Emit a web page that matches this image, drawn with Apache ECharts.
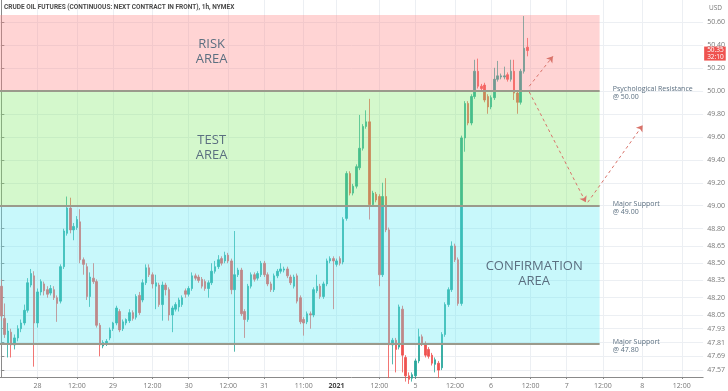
<!DOCTYPE html>
<html><head><meta charset="utf-8">
<script src="https://cdn.jsdelivr.net/npm/echarts@6/dist/echarts.min.js"></script>
<style>html,body{margin:0;padding:0;background:#fff}#c{width:728px;height:391px}</style>
</head><body><div id="c"></div>
<script>
const opens  = [48.30,48.02,47.80,47.90,47.79,47.85,47.93,47.98,48.09,48.31,48.39,47.98,48.25,48.32,48.27,48.24,48.27,48.20,48.17,48.47,
48.76,48.98,48.79,48.81,48.86,48.53,48.47,48.21,48.37,48.34,47.96,47.78,47.80,47.85,47.93,47.98,48.08,47.93,47.98,48.00,
48.07,48.03,48.22,48.18,48.33,48.46,48.40,48.30,48.31,48.14,48.31,48.27,48.05,48.10,48.12,48.14,48.26,48.23,48.28,48.39,
48.38,48.36,48.34,48.28,48.33,48.43,48.47,48.54,48.52,48.57,48.52,48.27,48.40,48.44,48.08,48.01,48.30,48.40,48.37,48.40,
48.50,48.40,48.32,48.27,48.39,48.43,48.44,48.45,48.38,48.30,48.39,48.20,48.01,47.99,48.06,48.05,48.26,48.30,48.21,48.32,
48.52,48.54,48.49,48.54,48.51,48.89,49.28,49.11,49.17,49.33,49.50,49.69,49.73,49.01,49.10,49.08,48.40,49.08,48.79,47.79,
47.83,47.77,48.10,47.68,47.52,47.50,47.52,47.65,47.86,47.80,47.75,47.70,47.62,47.63,47.59,47.88,48.14,48.27,48.65,48.53,
48.15,49.59,49.89,49.72,49.95,50.17,50.04,50.05,49.95,49.86,49.94,50.10,50.12,50.12,50.14,50.10,50.17,49.98,49.90,50.17,
50.38];
const closes = [48.04,47.88,47.91,47.79,47.85,47.93,47.98,48.09,48.33,48.41,47.98,48.25,48.34,48.26,48.23,48.28,48.20,48.15,48.47,48.78,
48.98,48.79,48.82,48.88,48.53,48.49,48.21,48.38,48.34,47.96,47.79,47.81,47.82,47.92,47.98,48.11,47.92,47.99,48.01,48.07,
48.02,48.21,48.07,48.33,48.46,48.40,48.32,48.33,48.14,48.31,48.27,48.05,48.11,48.14,48.18,48.20,48.23,48.28,48.39,48.37,
48.35,48.30,48.28,48.33,48.43,48.47,48.53,48.50,48.57,48.52,48.27,48.40,48.44,48.06,48.01,48.30,48.40,48.36,48.41,48.50,
48.40,48.32,48.27,48.39,48.43,48.45,48.45,48.39,48.33,48.38,48.17,47.99,47.98,48.06,48.05,48.27,48.30,48.21,48.32,48.52,
48.54,48.52,48.52,48.50,48.88,49.28,49.11,49.17,49.34,49.50,49.69,49.73,49.01,49.11,49.05,48.40,49.08,48.79,47.79,47.83,
47.75,48.12,47.70,47.52,47.49,47.53,47.65,47.86,47.80,47.70,47.69,47.63,47.66,47.57,47.88,48.14,48.27,48.65,48.53,48.15,
49.59,49.89,49.72,49.95,50.17,50.04,50.02,49.92,49.86,49.94,50.10,50.13,50.13,50.13,50.10,50.17,49.98,49.90,50.17,50.37,
50.35];
const lows   = [48.00,47.85,47.68,47.68,47.75,47.82,47.90,47.96,48.07,48.29,47.60,47.94,48.22,48.22,48.20,48.22,48.18,47.99,48.15,48.45,
48.74,48.76,48.70,48.79,48.50,48.40,48.18,48.12,48.32,47.94,47.69,47.76,47.78,47.83,47.91,47.96,47.90,47.91,47.96,47.98,
48.00,48.01,48.05,48.16,48.31,48.38,48.28,48.10,48.12,48.00,48.22,48.00,47.90,48.08,48.08,48.12,48.20,48.21,48.26,48.35,
48.33,48.28,48.26,48.20,48.31,48.41,48.45,48.48,48.50,48.50,48.23,47.73,48.38,48.04,47.85,47.99,48.28,48.34,48.35,48.38,
48.38,48.30,48.25,48.25,48.37,48.41,48.42,48.37,48.31,48.28,48.15,47.97,47.87,47.97,47.93,48.03,48.24,48.19,48.19,48.30,
48.50,48.10,48.47,48.48,48.49,48.87,49.09,49.09,49.15,49.31,49.48,49.67,48.88,48.99,49.03,48.30,48.38,48.77,47.50,47.62,
47.55,47.75,47.55,47.47,47.45,47.47,47.50,47.63,47.78,47.68,47.67,47.61,47.55,47.50,47.57,47.86,48.12,48.25,48.51,48.13,
48.13,49.47,49.70,49.70,49.93,50.02,49.99,49.90,49.80,49.84,49.92,50.08,50.10,50.10,50.08,50.08,49.92,49.80,49.88,50.15,
50.30];
const highs  = [48.36,48.15,47.98,47.93,47.88,47.96,48.01,48.14,48.37,48.45,48.43,48.28,48.36,48.34,48.30,48.31,48.30,48.22,48.49,48.80,
49.08,49.07,48.85,48.91,48.97,48.55,48.50,48.42,48.50,48.36,47.98,47.83,47.84,47.94,47.99,48.13,48.10,48.01,48.02,48.10,
48.09,48.23,48.25,48.36,48.49,48.49,48.42,48.40,48.33,48.34,48.33,48.29,48.13,48.16,48.20,48.22,48.28,48.30,48.42,48.41,
48.40,48.38,48.36,48.35,48.50,48.52,48.57,48.56,48.60,48.59,48.54,48.78,48.46,48.46,48.10,48.32,48.42,48.42,48.43,48.52,
48.52,48.42,48.34,48.41,48.45,48.50,48.47,48.47,48.40,48.40,48.41,48.22,48.03,48.08,48.08,48.29,48.40,48.32,48.34,48.54,
48.56,48.56,48.54,48.56,48.90,49.30,49.30,49.19,49.36,49.79,49.71,49.83,49.93,49.13,49.12,49.10,49.20,49.24,48.81,47.85,
47.85,48.14,48.13,47.70,47.55,47.55,47.67,47.93,47.88,47.82,47.77,47.72,47.68,47.65,47.90,48.16,48.29,48.69,48.67,48.55,
49.61,49.91,49.91,49.97,50.27,50.28,50.06,50.07,49.97,49.96,50.20,50.26,50.15,50.21,50.16,50.27,50.27,50.00,50.19,50.65,
50.46];

const xTickPos  = [11, 23, 34, 46, 57, 69, 80, 92, 102, 115, 126, 138, 149, 161, 172, 183, 195, 207];
const xTickText = ['28','12:00','29','12:00','30','12:00','31','11:00','2021','12:00','5','12:00','6','12:00','7','12:00','8','12:00'];
const yTicks = [50.60,50.40,50.20,50.00,49.80,49.60,49.40,49.20,49.00,48.80,48.65,48.50,48.35,48.20,48.05,47.93,47.81,47.69,47.57];

const riskTop = 50.66, resistance = 50.00, support1 = 49.00, support2 = 47.80;
const zoneEnd = 182;
const lastPrice = 50.35, countdown = '32:10';
const arrowUp = [[160.6, 50.04], [167.8, 50.30]];
const arrowDown = [[160.6, 49.99], [177.8, 49.03]];
const arrowRebound = [[178.4, 49.03], [195.1, 49.70]];

const X_MIN = -0.4, X_MAX = 213.5;
const FONT = 'Open Sans';

const candles = opens.map((o, i) => [i, o, closes[i], lows[i], highs[i]]);

const chart = echarts.init(document.getElementById('c'), null, {renderer: 'canvas'});
const textCol = '#5b6f80';
chart.setOption({
  animation: false,
  backgroundColor: '#ffffff',
  title: {
    text: 'CRUDE OIL FUTURES (CONTINUOUS: NEXT CONTRACT IN FRONT), 1h, NYMEX',
    left: 4, top: 4, padding: 0,
    textStyle: {fontSize: 6.5, fontWeight: 'bold', color: '#4a4a4a', fontFamily: 'Roboto'}
  },
  graphic: [{type: 'text', right: 6, top: 5, style: {text: 'USD', fontSize: 6.5, fill: '#777', fontFamily: FONT}}],
  grid: {left: 0, right: 21, top: 0, bottom: 14},
  xAxis: {
    type: 'value', min: X_MIN, max: X_MAX,
    axisLine: {lineStyle: {color: '#8a8a8a'}},
    axisTick: {customValues: xTickPos, length: 2, lineStyle: {color: '#8a8a8a'}},
    axisLabel: {
      customValues: xTickPos, fontSize: 7, color: '#777', fontFamily: FONT, margin: 5,
      formatter: v => { const k = xTickPos.indexOf(Math.round(v)); const t = k >= 0 ? xTickText[k] : ''; return t === '2021' ? '{b|2021}' : t; },
      rich: {b: {fontWeight: 'bold', fontSize: 7, color: '#444', fontFamily: FONT}}
    },
    splitLine: {show: true, lineStyle: {color: '#eceff3', width: 1}}
  },
  yAxis: {
    type: 'value', position: 'right', min: 47.51, max: 50.79, scale: true,
    axisLine: {show: true, lineStyle: {color: '#8a8a8a'}},
    axisTick: {show: true, customValues: yTicks, length: 3, lineStyle: {color: '#8a8a8a'}},
    axisLabel: {customValues: yTicks, fontSize: 7, color: '#777', margin: 4, fontFamily: FONT, formatter: v => v.toFixed(2)},
    splitLine: {show: true, lineStyle: {color: '#eceff3', width: 1}}
  },
  series: [
    {
      type: 'candlestick', z: 2,
      data: candles,
      encode: {x: 0, y: [1, 2, 3, 4]},
      barWidth: 2,
      itemStyle: {color: '#26a69a', color0: '#ef5350', borderColor: '#26a69a', borderColor0: '#ef5350', borderWidth: 0.8}
    },
    {
      type: 'line', z: 3, data: [], silent: true,
      markArea: {
        silent: true, z: 3,
        data: [
          [{xAxis: X_MIN, yAxis: riskTop, itemStyle: {color: 'rgba(255,132,132,0.35)'}}, {xAxis: zoneEnd, yAxis: resistance}],
          [{xAxis: X_MIN, yAxis: resistance, itemStyle: {color: 'rgba(132,235,109,0.35)'}}, {xAxis: zoneEnd, yAxis: support1}],
          [{xAxis: X_MIN, yAxis: support1, itemStyle: {color: 'rgba(98,235,244,0.35)'}}, {xAxis: zoneEnd, yAxis: support2}]
        ]
      }
    },
    {
      type: 'line', z: 4, data: [], silent: true,
      markLine: {
        silent: true, symbol: 'none', label: {show: false}, z: 4,
        lineStyle: {color: '#9b9a8c', width: 2, type: 'solid'},
        data: [
          [{coord: [X_MIN, resistance]}, {coord: [zoneEnd, resistance]}],
          [{coord: [X_MIN, support1]}, {coord: [zoneEnd, support1]}],
          [{coord: [X_MIN, support2]}, {coord: [zoneEnd, support2]}]
        ]
      }
    },
    {
      type: 'line', z: 5, data: [], silent: true,
      markLine: {
        silent: true, symbol: ['none', 'arrow'], symbolSize: 6, label: {show: false},
        lineStyle: {color: '#d9736a', width: 1, type: [3, 3]},
        data: [
          [{coord: arrowUp[0]}, {coord: arrowUp[1]}],
          [{coord: arrowDown[0]}, {coord: arrowDown[1]}],
          [{coord: arrowRebound[0]}, {coord: arrowRebound[1]}]
        ]
      },
      markPoint: {
        silent: true, symbol: 'circle', symbolSize: 0,
        data: [
          {coord: [64, 50.34], label: {show: true, position: 'inside', formatter: 'RISK\nAREA', fontSize: 13, lineHeight: 15, color: textCol, fontFamily: FONT, align: 'center'}},
          {coord: [64, 49.50], label: {show: true, position: 'inside', formatter: 'TEST\nAREA', fontSize: 13, lineHeight: 15, color: textCol, fontFamily: FONT, align: 'center'}},
          {coord: [162.1, 48.41], label: {show: true, position: 'inside', formatter: 'CONFIRMATION\nAREA', fontSize: 13, lineHeight: 15, color: textCol, fontFamily: FONT, align: 'center'}},
          {coord: [186, 49.98], label: {show: true, position: [0, 0], align: 'left', verticalAlign: 'middle', formatter: 'Psychological Resistance\n@ 50.00', fontSize: 7, lineHeight: 7.5, color: textCol, fontFamily: FONT}},
          {coord: [186, 48.98], label: {show: true, position: [0, 0], align: 'left', verticalAlign: 'middle', formatter: 'Major Support\n@ 49.00', fontSize: 7, lineHeight: 7.5, color: textCol, fontFamily: FONT}},
          {coord: [186, 47.78], label: {show: true, position: [0, 0], align: 'left', verticalAlign: 'middle', formatter: 'Major Support\n@ 47.80', fontSize: 7, lineHeight: 7.5, color: textCol, fontFamily: FONT}},
          {coord: [X_MAX, lastPrice], label: {show: true, position: [1, -4], align: 'left', verticalAlign: 'top', formatter: lastPrice.toFixed(2) + '\n' + countdown, backgroundColor: '#ef5350', color: '#fff', fontSize: 6.5, lineHeight: 7, padding: [0, 2, 0, 3], fontFamily: FONT}}
        ]
      }
    }
  ]
});
</script></body></html>
